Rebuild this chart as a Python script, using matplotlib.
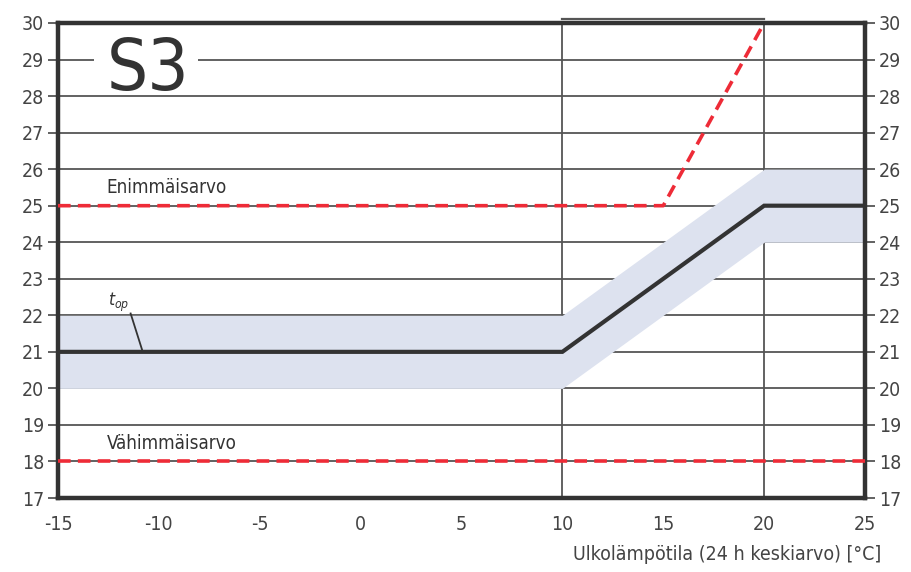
import matplotlib.pyplot as plt

plt.rcParams['font.family'] = ['DejaVu Sans']
plt.rcParams['font.stretch'] = 'condensed'

# data
ulko = [-15, 10, 20, 25]          # ulkolämpötila
t_op = [21, 21, 25, 25]           # operatiivinen lämpötila
band_lo = [20, 20, 24, 24]
band_hi = [22, 22, 26, 26]
max_x = [-15, 15, 20]
max_y = [25, 25, 30]
min_x = [-15, 25]
min_y = [18, 18]
xticks = [-15, -10, -5, 0, 5, 10, 15, 20, 25]
yticks = list(range(17, 31))

dark = '#333333'
grid_c = '#555555'
red = '#ee2b37'
txt_c = '#444444'

fig = plt.figure(figsize=(9.12, 5.72), dpi=100)
ax = fig.add_axes([58 / 912, 1 - 498 / 572, 807 / 912, 475 / 572])
ax.set_xlim(-15, 25)
ax.set_ylim(17, 30)

# ruudukko
for y in yticks:
    ax.axhline(y, color=grid_c, lw=1.3, zorder=1)
for x in [10, 20]:
    ax.axvline(x, color=grid_c, lw=1.3, zorder=1)
ax.plot([10, 20], [30.1, 30.1], color=grid_c, lw=1.6, clip_on=False, zorder=1)

# vaihteluväli
ax.fill_between(ulko, band_lo, band_hi, color='#dde2ef', lw=0, zorder=2)
ax.plot(ulko, t_op, color=dark, lw=3, zorder=4, solid_joinstyle='miter')

# raja-arvot
ax.plot(max_x, max_y, color=red, lw=2.6, ls=(0, (3.5, 2)), zorder=5)
ax.plot(min_x, min_y, color=red, lw=2.6, ls=(0, (3.5, 2)), zorder=5)

ax.text(-12.6, 25.5, 'Enimmäisarvo', fontsize=13.5, color=dark, va='center', zorder=6)
ax.text(-12.6, 18.5, 'Vähimmäisarvo', fontsize=13.5, color=dark, va='center', zorder=6)

# S3-otsikko, ruudukkoviiva katkaistu sen kohdalta
ax.hlines(29, -13.2, -8.05, color='white', lw=4, zorder=1.5)
ax.text(-12.6, 28.17, 'S3', fontsize=52, color=dark, va='baseline', ha='left', zorder=6)

ax.text(-12.5, 22.35, '$t_{op}$', fontsize=12.5, color=dark, ha='left', va='center', zorder=6)
ax.plot([-11.4, -10.8], [22.05, 21.0], color=dark, lw=1.3, zorder=6)

# akselit
for s in ax.spines.values():
    s.set_linewidth(3.2)
    s.set_color(dark)
ax.set_xticks(xticks)
ax.set_xticklabels([str(v) for v in xticks])
ax.set_yticks(yticks)
ax.tick_params(axis='x', length=0, pad=12, labelsize=14, labelcolor=txt_c)
ax.tick_params(axis='y', direction='out', length=7, width=1.3, color=grid_c,
               labelsize=14, labelcolor=txt_c, pad=3,
               left=True, right=True, labelleft=True, labelright=True)
ax.set_xlabel('Ulkolämpötila (24 h keskiarvo) [°C]', fontsize=14, color=txt_c,
              ha='right', x=1.02, labelpad=8)

fig.savefig('out.png', dpi=100)
